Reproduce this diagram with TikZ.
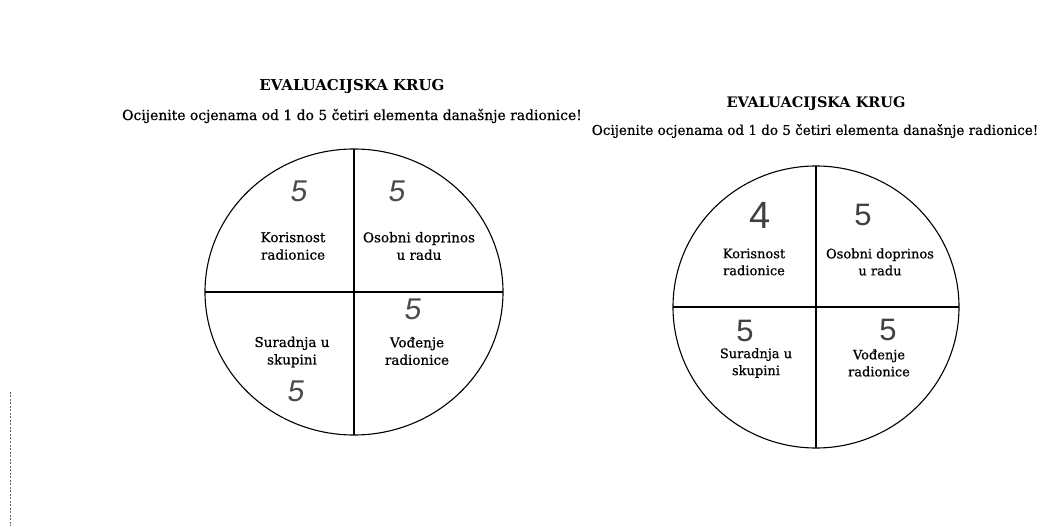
\documentclass[tikz,border=0pt]{standalone}
\usepackage{fontspec}
\setmainfont{DejaVu Serif}
\newfontfamily\scanfont[FakeBold=0.6]{DejaVu Serif}
\newfontfamily\handfont[FakeSlant=0.15]{Liberation Sans}
\newfontfamily\handup{Liberation Sans}
\begin{document}
\begin{tikzpicture}[x=1pt,y=-1pt,
  ring/.style={line width=1.1pt},
  divider/.style={line width=1.1pt},
  titletext/.style={font=\fontsize{15}{17}\selectfont\bfseries, inner sep=0pt},
  subtext/.style={font=\scanfont\fontsize{13.9}{17}\selectfont, inner sep=0pt},
  label/.style={font=\scanfont\fontsize{13.5}{17.5}\selectfont, align=center, inner sep=0pt},
  hand/.style={font=\handfont\fontsize{30}{30}\selectfont, inner sep=0pt, text=black!70},
  handb/.style={font=\handup\fontsize{31}{31}\selectfont, inner sep=0pt, text=black!75}]
\useasboundingbox (0,0) rectangle (1039,526);
\fill[white] (0,0) rectangle (1039,526);
% scan artifact at left edge
\coordinate (edgeA) at (10,392);
\coordinate (edgeB) at (10,526);
\draw[black!60, line width=0.8pt, dash pattern=on 2pt off 1.5pt] (edgeA) -- (edgeB);

% ---------- left form ----------
\node[titletext] (t1) at (352,86) {EVALUACIJSKA KRUG};
\node[subtext] (s1) at (352,116) {Ocijenite ocjenama od 1 do 5 četiri elementa današnje radionice!};
\coordinate (c1) at (354,292);
\draw[ring] (c1) ellipse [x radius=149, y radius=143];
\coordinate (c1n) at (354,149);
\coordinate (c1s) at (354,435);
\coordinate (c1w) at (205,292);
\coordinate (c1e) at (503,292);
\draw[divider] (c1n) -- (c1s);
\draw[divider] (c1w) -- (c1e);
\node[label] (l1a) at (293,246) {Korisnost\\radionice};
\node[label] (l1b) at (419,246) {Osobni doprinos\\u radu};
\node[label] (l1c) at (292,352) {Suradnja u\\skupini};
\node[label] (l1d) at (417,351) {Vođenje\\radionice};
\node[hand] (h1a) at (298,191) {5};
\node[hand] (h1b) at (396,191) {5};
\node[hand] (h1d) at (412,309) {5};
\node[hand] (h1c) at (295,391) {5};

% ---------- right form ----------
\node[titletext, font=\fontsize{14.5}{17}\selectfont\bfseries] (t2) at (816,104) {EVALUACIJSKA KRUG};
\node[subtext, font=\scanfont\fontsize{13.5}{17}\selectfont] (s2) at (815,131) {Ocijenite ocjenama od 1 do 5 četiri elementa današnje radionice!};
\coordinate (c2) at (816,307);
\draw[ring] (c2) ellipse [x radius=143, y radius=141];
\coordinate (c2n) at (816,166);
\coordinate (c2s) at (816,448);
\coordinate (c2w) at (673,307);
\coordinate (c2e) at (959,307);
\draw[divider] (c2n) -- (c2s);
\draw[divider] (c2w) -- (c2e);
\begin{scope}[label/.append style={font=\scanfont\fontsize{13}{17}\selectfont}]
\node[label] (l2a) at (754,262) {Korisnost\\radionice};
\node[label] (l2b) at (880,262) {Osobni doprinos\\u radu};
\node[label] (l2c) at (756,363) {Suradnja u\\skupini};
\node[label] (l2d) at (879,363) {Vođenje\\radionice};
\end{scope}
\node[handb, font=\handup\fontsize{38}{38}\selectfont] (h2a) at (760,215) {4};
\node[handb] (h2b) at (863,215) {5};
\node[handb] (h2c) at (745,331) {5};
\node[handb] (h2d) at (888,330) {5};
\end{tikzpicture}
\end{document}
